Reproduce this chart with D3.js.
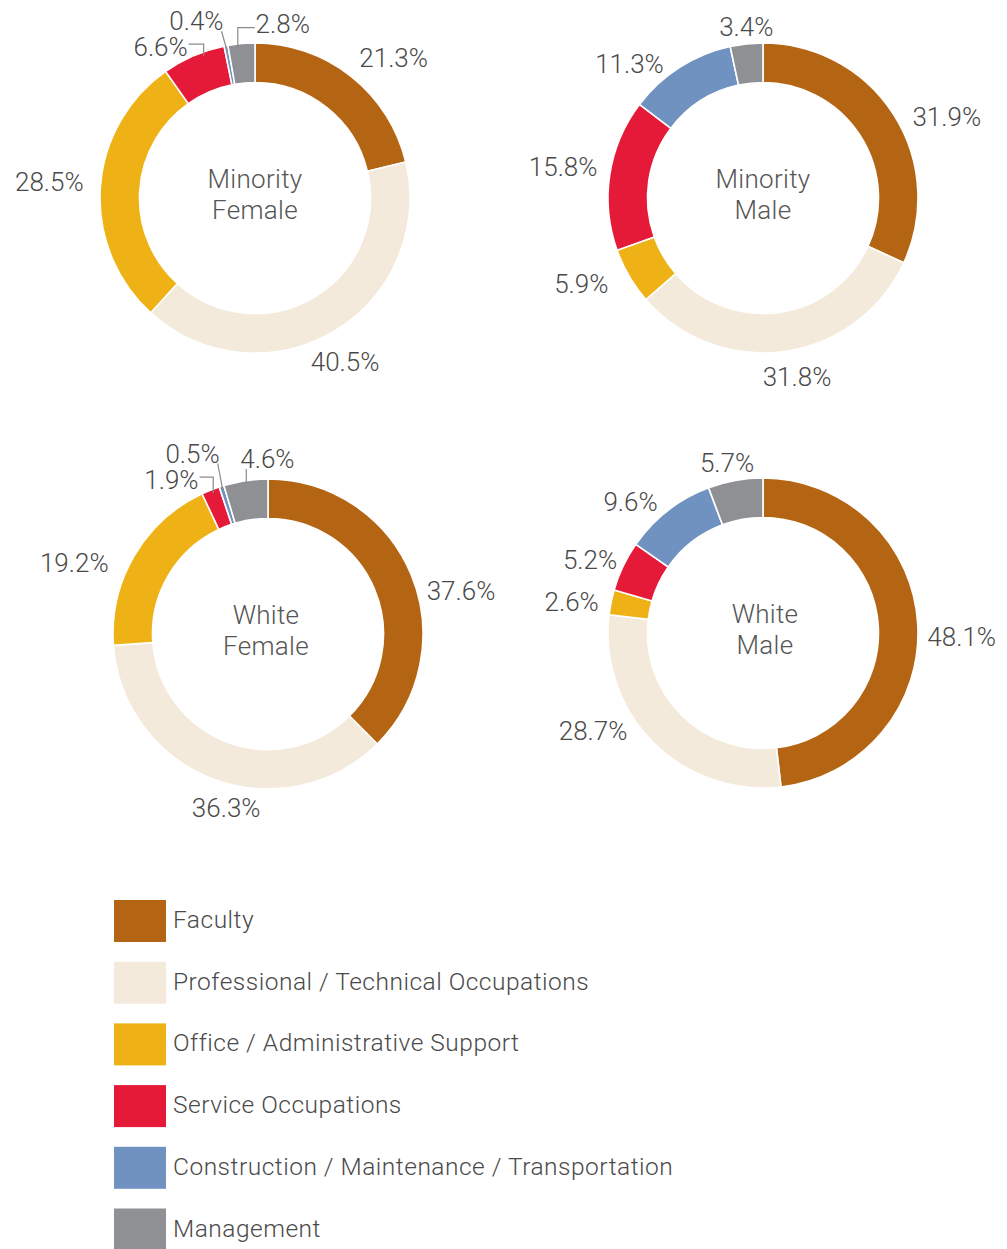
<!DOCTYPE html>
<html><head><meta charset="utf-8">
<script src="https://cdn.jsdelivr.net/npm/d3@7"></script>
<style>body{margin:0;background:#fff}</style>
</head><body>
<svg id="chart" width="1007" height="1249"></svg>
<script>
// ---- data ----
const categories = ["Faculty", "Professional / Technical Occupations", "Office / Administrative Support",
  "Service Occupations", "Construction / Maintenance / Transportation", "Management"];
const groupTitles = [["Minority", "Female"], ["Minority", "Male"], ["White", "Female"], ["White", "Male"]];
const minorityFemale = [21.3, 40.5, 28.5, 6.6, 0.4, 2.8];
const minorityMale   = [31.9, 31.8, 5.9, 15.8, 11.3, 3.4];
const whiteFemale    = [37.6, 36.3, 19.2, 1.9, 0.5, 4.6];
const whiteMale      = [48.1, 28.7, 2.6, 5.2, 9.6, 5.7];
const seriesList = [minorityFemale, minorityMale, whiteFemale, whiteMale];
const colors = ["#B46514", "#F3EADB", "#EFB216", "#E41A38", "#7092C1", "#8F9094"];

// ---- layout ----
const centers = [[255, 198], [763, 198], [268, 634], [763, 633]];
const titleShift = [0, 0, -2, 2];
const outerR = 155, innerR = 115.5, labelR = 185;
const labelNudges = [
  [[24, 5], [-4, 5], [-21, -5], [-21, 19], [-24, 5], [44, 10]],
  [[28, 19], [8, -4], [-22, -7], [-17, -3], [-34, 22], [3, 13]],
  [[22, 27], [23, 1], [-34, 22], [-28, 18], [-20, -4], [26, 8]],
  [[14, 15], [-39, -33], [-10, 6], [-6, 7], [-19, 15], [-3, 12]]
];
// leader: [type, angle offset in degrees]  type 0 none, 1 elbow, 2 vertical
const leaders = [
  [[0,0],[0,0],[0,0],[1,3.5],[2,0],[1,-1.5]],
  [[0,0],[0,0],[0,0],[0,0],[0,0],[0,0]],
  [[0,0],[0,0],[0,0],[1,0.5],[2,0],[2,0]],
  [[0,0],[0,0],[0,0],[0,0],[0,0],[0,0]]
];

const FONT = "Roboto, 'Helvetica Neue', Arial, sans-serif";
const svg = d3.select("#chart");
const pie = d3.pie().sort(null).value(d => d).startAngle(0).endAngle(2 * Math.PI);
const arc = d3.arc().innerRadius(innerR).outerRadius(outerR);
const labelArc = d3.arc().innerRadius(labelR).outerRadius(labelR);

seriesList.forEach((vals, gi) => {
  const [cx, cy] = centers[gi];
  const g = svg.append("g").attr("transform", `translate(${cx},${cy})`);
  const arcs = pie(vals);
  g.selectAll("path.slice").data(arcs).join("path")
    .attr("class", "slice")
    .attr("d", arc)
    .attr("fill", (d, i) => colors[i])
    .attr("stroke", "#fff")
    .attr("stroke-width", 1.6);

  // center title
  const t = g.append("text").attr("text-anchor", "middle")
    .attr("font-family", FONT).attr("font-weight", 300)
    .attr("font-size", 26).attr("letter-spacing", 0.3).attr("fill", "#555");
  t.append("tspan").attr("x", titleShift[gi]).attr("y", -10).text(groupTitles[gi][0]);
  t.append("tspan").attr("x", titleShift[gi]).attr("y", 21).text(groupTitles[gi][1]);

  arcs.forEach((d, i) => {
    const c = labelArc.centroid(d);
    const lx = c[0] + labelNudges[gi][i][0], ly = c[1] + labelNudges[gi][i][1];
    const txt = g.append("text")
      .attr("x", lx).attr("y", ly).attr("dy", "0.35em")
      .attr("text-anchor", "middle")
      .attr("font-family", FONT).attr("font-weight", 300)
      .attr("font-size", 26).attr("fill", "#4a4a4a")
      .text(d3.format(".1f")(vals[i]) + "%");
    const [type, off] = leaders[gi][i];
    if (type) {
      const w = txt.node().getComputedTextLength();
      const mid = (d.startAngle + d.endAngle) / 2 + off * Math.PI / 180;
      const rr = outerR - 4;
      const ex = rr * Math.sin(mid), ey = -rr * Math.cos(mid);
      let pts;
      if (type === 2) {
        const sx = Math.min(ex, lx + w / 2 - 2);
        pts = [[sx, ly + 10], [ex, ey]];
      } else if (ex > lx) {
        const yy = ly - 3;
        pts = [[lx + w / 2 + 1, yy], [ex, yy], [ex, ey]];
      } else {
        const yy = ly + 4;
        pts = [[lx - w / 2 - 1, yy], [ex, yy], [ex, ey]];
      }
      g.append("path").attr("d", d3.line()(pts))
        .attr("fill", "none").attr("stroke", "#8a8a8a").attr("stroke-width", 1.2);
    }
  });
});

// legend
const legendY = d3.scaleLinear().domain([0, 1]).range([900, 961.7]);
const lg = svg.append("g");
categories.forEach((cat, i) => {
  const y = legendY(i);
  lg.append("rect").attr("x", 114).attr("y", y).attr("width", 52).attr("height", 42).attr("fill", colors[i]);
  lg.append("text").attr("x", 173).attr("y", y + 28)
    .attr("font-family", FONT).attr("font-weight", 300)
    .attr("font-size", 24.5).attr("letter-spacing", 0.5).attr("fill", "#4a4a4a").text(cat);
});
</script>
</body></html>
